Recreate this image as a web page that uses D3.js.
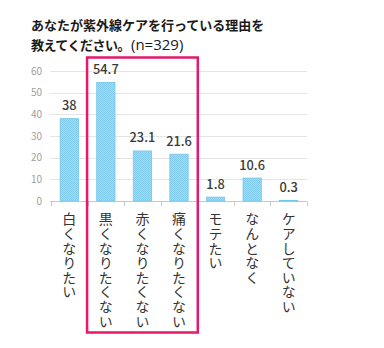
<!DOCTYPE html>
<html><head><meta charset="utf-8">
<script src="https://cdn.jsdelivr.net/npm/d3@7"></script>
<style>
html,body{margin:0;padding:0;background:#fff;}
svg{display:block;}
text{font-family:"Noto Sans CJK JP","Noto Sans",sans-serif;}
</style></head>
<body>
<script>
const categories = ["白くなりたい","黒くなりたくない","赤くなりたくない","痛くなりたくない","モテたい","なんとなく","ケアしていない"];
const values = [38, 54.7, 23.1, 21.6, 1.8, 10.6, 0.3];
const valueLabels = ["38","54.7","23.1","21.6","1.8","10.6","0.3"];
const yTicks = [0,10,20,30,40,50,60];
const highlighted = ["黒くなりたくない","赤くなりたくない","痛くなりたくない"];

const W = 384, H = 348;
const svg = d3.select("body").append("svg").attr("width", W).attr("height", H);

const defs = svg.append("defs");
const pat = defs.append("pattern").attr("id","hatch").attr("width",2).attr("height",2).attr("patternUnits","userSpaceOnUse");
pat.append("rect").attr("width",2).attr("height",2).attr("fill","#a3dcf4");
pat.append("rect").attr("width",1).attr("height",1).attr("fill","#80cbec");
pat.append("rect").attr("x",1).attr("y",1).attr("width",1).attr("height",1).attr("fill","#80cbec");

// title
svg.append("text").attr("x",31).attr("y",30).attr("font-size",13).attr("font-weight","bold").attr("fill","#1a1a1a")
  .text("あなたが紫外線ケアを行っている理由を");
const t2 = svg.append("text").attr("x",31).attr("y",50).attr("font-size",13).attr("fill","#1a1a1a");
t2.append("tspan").attr("font-weight","bold").attr("letter-spacing","-0.5px").text("教えてください。");
t2.append("tspan").attr("dx",1).attr("font-size",15).attr("font-family","'Open Sans','Noto Sans',sans-serif").text("(n=329)");

const x = d3.scaleBand().domain(categories).range([51,307]).paddingInner(0.5).paddingOuter(0.25);
const y = d3.scaleLinear().domain([0,60]).range([201,71]);

// grid
svg.append("g").selectAll("line").data(yTicks.filter(d=>d>0)).join("line")
  .attr("x1",50).attr("x2",307).attr("y1",d=>Math.round(y(d))+0.5).attr("y2",d=>Math.round(y(d))+0.5)
  .attr("stroke","#e5e5e5").attr("stroke-width",1);

// y labels
svg.append("g").selectAll("text").data(yTicks).join("text")
  .attr("x",42).attr("y",d=>y(d)+3.5).attr("text-anchor","end")
  .attr("font-size",10).attr("fill","#a0a0a0")
  .attr("font-family","'Noto Sans',sans-serif")
  .text(d=>d);

// x axis
const xAxis = svg.append("g");
xAxis.append("line").attr("x1",50).attr("x2",307).attr("y1",201.5).attr("y2",201.5).attr("stroke","#c8c8c8");
const bandEdges = d3.range(categories.length+1).map(i=>x.range()[0] + i*(x.range()[1]-x.range()[0])/categories.length);
xAxis.selectAll("line.tick").data(bandEdges).join("line").attr("class","tick")
  .attr("x1",d=>Math.round(d)+0.5).attr("x2",d=>Math.round(d)+0.5).attr("y1",201.5).attr("y2",206).attr("stroke","#c8c8c8");

// bars
svg.append("g").selectAll("rect").data(values).join("rect")
  .attr("x",(d,i)=>x(categories[i])).attr("width",x.bandwidth())
  .attr("y",d=>y(d)).attr("height",d=>y(0)-y(d))
  .attr("fill","url(#hatch)").attr("stroke","#74c5ea").attr("stroke-width",0.8);

// value labels
svg.append("g").selectAll("text").data(values).join("text")
  .attr("x",(d,i)=>x(categories[i])+x.bandwidth()/2)
  .attr("y",d=>y(d)-8.5).attr("text-anchor","middle")
  .attr("font-size",12.8).attr("fill","#3a3a3a").attr("font-weight",500)
  .attr("font-family","'Noto Sans',sans-serif")
  .text((d,i)=>valueLabels[i]);

// category labels vertical
svg.append("g").selectAll("text").data(categories).join("text")
  .attr("x",d=>x(d)+x.bandwidth()/2).attr("y",212)
  .attr("font-size",14).attr("fill","#333")
  .style("writing-mode","vertical-rl")
  .style("letter-spacing","0.6px")
  .text(d=>d);

// highlight rect
const hx0 = x(highlighted[0]) - x.step()*x.paddingInner()/2 - 0.5;
const hx1 = x(highlighted[highlighted.length-1]) + x.bandwidth() + x.step()*x.paddingInner()/2 + 0.5;
svg.append("rect").attr("x",hx0).attr("y",57.5).attr("width",hx1-hx0).attr("height",275)
  .attr("fill","none").attr("stroke","#e5186c").attr("stroke-width",2.5);
</script>
</body></html>
